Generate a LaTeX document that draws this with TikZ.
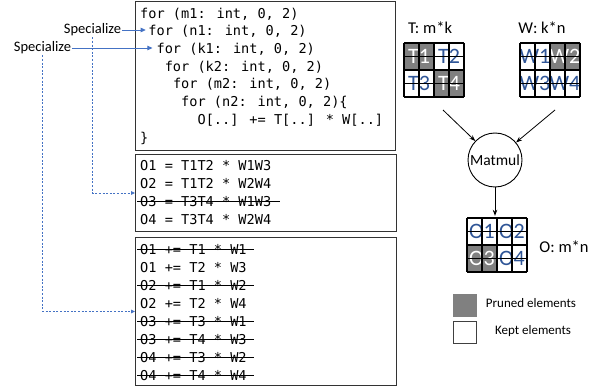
\documentclass[tikz,border=0pt]{standalone}
\usepackage{fontspec}
\setmainfont{Carlito}
\newfontfamily\monof{DejaVu Sans Mono}
\usetikzlibrary{arrows.meta}
\definecolor{pruned}{RGB}{128,128,128}
\definecolor{keptblue}{RGB}{47,85,151}
\definecolor{arrowblue}{RGB}{68,114,196}
\newcommand\drawmatgrid[2]{%
  \foreach \i in {0,...,4}{%
    \draw[gl] ({#1+15*\i},#2) -- ({#1+15*\i},{#2+54});
    \draw[gl] (#1,{#2+13.5*\i}) -- ({#1+60},{#2+13.5*\i});
  }}
\begin{document}
\begin{tikzpicture}[x=1pt,y=-1pt,
  codebox/.style={draw=black!80, line width=1pt, anchor=north west, inner sep=0pt},
  code/.style={font=\monof\fontsize{13.6}{13.6}\selectfont, anchor=base west, inner sep=0pt, text height=10pt, text depth=0pt},
  strike/.style={line width=0.9pt, black},
  lab/.style={font=\fontsize{14.5}{14.5}\selectfont, inner sep=1pt},
  sarrow/.style={arrowblue, line width=0.8pt, -{Triangle[length=5pt,width=4.5pt]}},
  darrow/.style={arrowblue, line width=0.8pt, dash pattern=on 2pt off 1.6pt, -{Triangle[length=4pt,width=3.5pt]}},
  barrow/.style={black, line width=0.8pt, -{Stealth[length=6pt,width=4.5pt]}},
  quad/.style={minimum width=30pt, minimum height=27pt, inner sep=0pt, font=\fontsize{22}{22}\selectfont},
  prq/.style={quad, fill=pruned, text=white},
  kpq/.style={quad, fill=white, text=keptblue},
  gl/.style={black, line width=1.2pt},
  title/.style={font=\fontsize{16.5}{16.5}\selectfont, inner sep=0pt},
  leg/.style={font=\fontsize{13}{13}\selectfont, inner sep=0pt}]
\useasboundingbox[fill=white] (0,0) rectangle (601,387);

% boxes
\node[codebox, minimum width=260pt, minimum height=149pt] (box1) at (135,1) {};
\node[codebox, minimum width=261pt, minimum height=77pt] (box2) at (135,154) {};
\node[codebox, minimum width=261pt, minimum height=148pt] (box3) at (135,237) {};

% box 1 code
\node[code] (c1) at (140,18.2) {for (m1: int, 0, 2)};
\node[code] (c2) at (148.2,35.9) {for (n1: int, 0, 2)};
\node[code] (c3) at (156.4,53.6) {for (k1: int, 0, 2)};
\node[code] (c4) at (164.6,71.3) {for (k2: int, 0, 2)};
\node[code] (c5) at (172.8,89) {for (m2: int, 0, 2)};
\node[code] (c6) at (181,106.7) {for (n2: int, 0, 2)\{};
\node[code] (c7) at (197.4,124.4) {O[..] += T[..] * W[..]};
\node[code] (c8) at (140,142.1) {\}};

% box 2 code
\node[code] (p1) at (140,171) {O1 = T1T2 * W1W3};
\node[code] (p2) at (140,188.7) {O2 = T1T2 * W2W4};
\node[code] (p3) at (140,206.4) {O3 = T3T4 * W1W3};
\node[code] (p4) at (140,224.1) {O4 = T3T4 * W2W4};
\draw[strike] ([xshift=-3pt]p3.west) -- ([xshift=9pt]p3.east);

% box 3 code
\node[code] (q1) at (140,254) {O1 += T1 * W1};
\node[code] (q2) at (140,272) {O1 += T2 * W3};
\node[code] (q3) at (140,290) {O2 += T1 * W2};
\node[code] (q4) at (140,308) {O2 += T2 * W4};
\node[code] (q5) at (140,326) {O3 += T3 * W1};
\node[code] (q6) at (140,344) {O3 += T4 * W3};
\node[code] (q7) at (140,362) {O4 += T3 * W2};
\node[code] (q8) at (140,380) {O4 += T4 * W4};
\foreach \n in {q1,q3,q5,q6,q7,q8}{
  \draw[strike] ([xshift=-3pt]\n.west) -- ([xshift=7pt]\n.east);
}

% specialize labels and arrows
\node[lab] (s1) at (92.5,30) {Specialize};
\node[lab] (s2) at (42.5,48) {Specialize};
\draw[sarrow, shorten >=2.5pt] (s1.east) -- (s1.east -| c2.west);
\draw[sarrow, shorten >=4pt] (s2.east) -- (s2.east -| c3.west);
\draw[darrow] (s1.south) |- (box2.west);
\draw[darrow] (s2.south) |- (box3.west);

% matrix titles
\node[title] (tl) at (430,28) {T: m*k};
\node[title] (wl) at (542,28) {W: k*n};
\node[title] (ol) at (564,247) {O: m*n};

% T matrix
\node[prq] (T1) at (419,56.5) {T1};
\node[kpq] (T2) at (449,56.5) {T2};
\node[kpq] (T3) at (419,83.5) {T3};
\node[prq] (T4) at (449,83.5) {T4};
\drawmatgrid{404}{43}

% W matrix
\node[kpq] (W1) at (535,56.5) {W1};
\node[prq] (W2) at (565,56.5) {W2};
\node[kpq] (W3) at (535,83.5) {W3};
\node[kpq] (W4) at (565,83.5) {W4};
\drawmatgrid{520}{43}

% O matrix
\node[kpq] (O1) at (482,231.5) {O1};
\node[kpq] (O2) at (512,231.5) {O2};
\node[prq] (O3) at (482,258.5) {O3};
\node[kpq] (O4) at (512,258.5) {O4};
\drawmatgrid{467}{218}

% matmul
\node[circle, draw, line width=0.9pt, minimum size=54pt, inner sep=0pt, font=\fontsize{15.5}{15.5}\selectfont] (mm) at (495,160) {Matmul};
\coordinate (ta) at (443,110);
\coordinate (wa) at (555,110);
\draw[barrow] (ta) -- (mm);
\draw[barrow] (wa) -- (mm);
\draw[barrow, shorten >=2pt] (mm.south) -- (mm.south |- O1.north);

% legend
\node[draw=pruned, fill=pruned, minimum width=23pt, minimum height=22pt, inner sep=0pt] (lg1) at (464.5,305) {};
\node[draw=black!75, line width=0.9pt, minimum width=23pt, minimum height=22pt, inner sep=0pt] (lg2) at (465,332) {};
\node[leg] (lt1) at (531,303) {Pruned elements};
\node[leg] (lt2) at (533,331) {Kept elements};
\end{tikzpicture}
\end{document}
